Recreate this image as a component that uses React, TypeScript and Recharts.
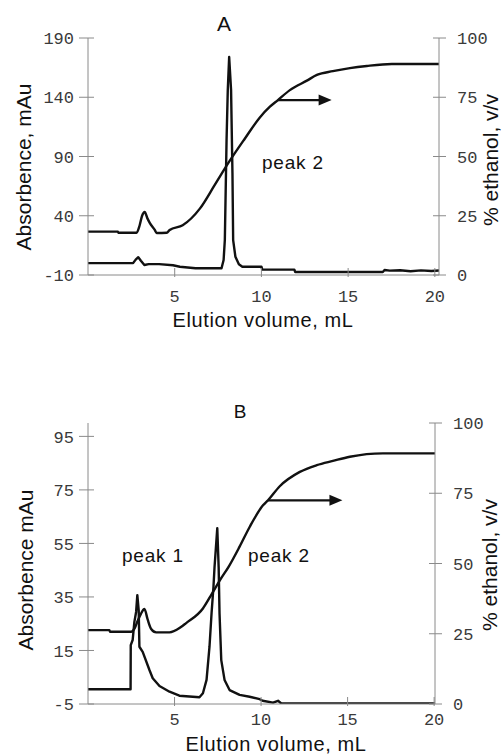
import React from 'react';
import { LineChart, Line, XAxis, YAxis, ReferenceLine, Customized } from 'recharts';

// ---- panel A : absorbance trace (mL, mAu) ----
const volA = [0, 2.6, 2.75, 2.9, 3.05, 3.25, 3.5, 4.1, 4.9, 5.3, 6.2, 7.7, 7.82, 7.89, 7.99, 8.06, 8.14, 8.25, 8.33, 8.37, 8.5, 8.7, 8.9, 10.0, 10.05, 11.9, 11.95, 17.0, 17.1, 17.4, 18.0, 18.6, 19.2, 19.8, 20.24];
const absA = [0, 0, 3, 5, 2, -1.6, -0.8, -0.8, -1.8, -3, -4.3, -4.3, 2.7, 19.5, 104, 146, 174, 146, 76, 19.5, 5.4, -1, -3, -3, -5.5, -5.5, -7.5, -7.5, -5.8, -6.3, -6.0, -6.8, -6.1, -6.6, -6.2];

// ---- panel A : ethanol gradient (mL, % v/v) ----
const gradVolA = [0, 1.72, 1.75, 2.8, 2.98, 3.12, 3.27, 3.42, 3.56, 3.85, 3.96, 4.54, 4.71, 5.46, 6.45, 7.31, 8.14, 9.04, 9.91, 10.49, 10.95, 11.64, 12.62, 13.2, 14.12, 15.1, 16.08, 17.52, 20.24];
const ethA = [18.3, 18.3, 17.8, 17.8, 21, 25, 26.6, 24, 22, 19, 17.7, 17.8, 19, 21, 28, 38, 47.8, 57.5, 66.5, 71, 73.8, 78, 82, 84.4, 86, 87.3, 88.2, 89, 89];

// ---- panel B : absorbance trace ----
const volB = [0, 2.46, 2.47, 2.58, 2.68, 2.78, 2.85, 2.93, 2.97, 3.16, 3.55, 3.74, 4.13, 4.71, 5.28, 6.44, 6.64, 6.85, 7.02, 7.14, 7.25, 7.31, 7.47, 7.55, 7.6, 7.7, 7.89, 8.18, 8.76, 9.34, 9.92, 10.09, 10.69, 10.98, 11.17, 20.05];
const absB = [0.5, 0.5, 17, 18.9, 25.7, 29.4, 35.7, 30, 16.4, 14.5, 7.7, 4.6, 1.7, -0.4, -1.9, -2.5, -1.0, 4, 16.4, 29, 38.8, 46, 60.7, 46, 28.8, 11.4, 4, 0.2, -1.6, -2.3, -3.2, -3.8, -4.5, -3.8, -4.8, -4.8];

// ---- panel B : ethanol gradient ----
const gradVolB = [0, 1.24, 1.27, 2.49, 2.7, 2.87, 3.05, 3.26, 3.45, 3.65, 3.94, 4.71, 5.35, 5.67, 6.64, 7.09, 7.67, 8.14, 8.76, 9.34, 10.11, 10.4, 11.08, 12.24, 13.22, 14.15, 15.13, 17.04, 20.05];
const ethB = [26.3, 26.3, 25.7, 25.7, 27, 29.6, 32, 33.8, 30, 26.7, 25.5, 25.5, 27.3, 28.8, 34, 38.5, 44.5, 49, 56, 63, 70.7, 72.5, 77.5, 82.6, 85, 86.5, 88, 89.2, 89.2];

// ticks
const volTicks = [5, 10, 15, 20];
const absTicksA = [-10, 40, 90, 140, 190];
const absTicksB = [-5, 15, 35, 55, 75, 95];
const ethTicks = [0, 25, 50, 75, 100];

const zip = (xs: number[], ys: number[], key: string) => xs.map((v, i) => ({ v, [key]: ys[i] }));

const AXIS = '#8a8a8a';
const TICK_TEXT = '#3a3a3a';
const INK = '#111';
const MONO = '"Liberation Mono", "DejaVu Sans Mono", monospace';
const SANS = '"Liberation Sans", Arial, sans-serif';

const LeftTick = (p: any) => (
  <g>
    <line x1={p.x - 9} x2={p.x + 6} y1={p.y} y2={p.y} stroke={AXIS} />
    <text x={p.x - 14} y={p.y} dy="0.36em" textAnchor="end" fontFamily={MONO} fontSize={17} fill={TICK_TEXT}>
      {p.payload.value}
    </text>
  </g>
);

const RightTick = (p: any) => (
  <g>
    <line x1={p.x - 6} x2={p.x + 7} y1={p.y} y2={p.y} stroke={AXIS} />
    <text x={p.x + 18} y={p.y} dy="0.36em" textAnchor="start" fontFamily={MONO} fontSize={17} fill={TICK_TEXT}>
      {p.payload.value}
    </text>
  </g>
);

const bottomTick = (off: number) => (p: any) => (
  <g>
    <line x1={p.x} x2={p.x} y1={p.y - 7} y2={p.y + 2} stroke={AXIS} />
    <text x={p.x} y={p.y + off} dy="0.36em" textAnchor="middle" fontFamily={MONO} fontSize={17} fill={TICK_TEXT}>
      {p.payload.value}
    </text>
  </g>
);

const Arrow = (p: any) => (
  <g>
    <line x1={p.x1} y1={p.y1} x2={p.x2 - 10} y2={p.y1} stroke={INK} strokeWidth={2.2} />
    <polygon points={`${p.x2},${p.y1} ${p.x2 - 13},${p.y1 - 5.5} ${p.x2 - 13},${p.y1 + 5.5}`} fill={INK} />
  </g>
);

const txt = { fontFamily: SANS, fill: INK };

const TextsA = () => (
  <g>
    <text x={224} y={31} textAnchor="middle" fontSize={21} {...txt}>A</text>
    <text x={262} y={169} fontSize={19} letterSpacing={0.8} {...txt}>peak 2</text>
    <text x={263} y={327} textAnchor="middle" fontSize={20} letterSpacing={0.6} {...txt}>Elution volume, mL</text>
    <text transform="translate(31,167) rotate(-90)" textAnchor="middle" fontSize={21} {...txt}>Absorbence, mAu</text>
    <text transform="translate(498,160) rotate(-90)" textAnchor="middle" fontSize={21} {...txt}>% ethanol, v/v</text>
  </g>
);

// panel B svg starts at page y = 380
const TextsB = () => (
  <g>
    <text x={240} y={38} textAnchor="middle" fontSize={19} {...txt}>B</text>
    <text x={122} y={182} fontSize={19} letterSpacing={0.8} {...txt}>peak 1</text>
    <text x={248} y={182} fontSize={19} letterSpacing={0.8} {...txt}>peak 2</text>
    <text x={276} y={371} textAnchor="middle" fontSize={20} letterSpacing={0.6} {...txt}>Elution volume, mL</text>
    <text transform="translate(33,190) rotate(-90)" textAnchor="middle" fontSize={21} {...txt}>Absorbence mAu</text>
    <text transform="translate(497,185) rotate(-90)" textAnchor="middle" fontSize={21} {...txt}>% ethanol, v/v</text>
  </g>
);

const lineProps = {
  stroke: INK,
  strokeWidth: 2.4,
  dot: false,
  activeDot: false,
  isAnimationActive: false,
  strokeLinejoin: 'round' as const,
};

function PanelA() {
  return (
    <LineChart width={502} height={340} margin={{ top: 38, right: 0, bottom: 0, left: 0 }}>
      <XAxis type="number" dataKey="v" domain={[0, 20.24]} ticks={volTicks} allowDataOverflow height={65}
        tickSize={0} tickMargin={0} tickLine={false} tick={bottomTick(21)} axisLine={{ stroke: AXIS }} interval={0} />
      <YAxis yAxisId="abs" domain={[-10, 190]} ticks={absTicksA} width={88} allowDataOverflow
        tickSize={0} tickMargin={0} tickLine={false} tick={LeftTick} axisLine={{ stroke: AXIS }} interval={0} />
      <YAxis yAxisId="eth" orientation="right" domain={[0, 100]} ticks={ethTicks} width={63} allowDataOverflow
        tickSize={0} tickMargin={0} tickLine={false} tick={RightTick} axisLine={{ stroke: AXIS }} interval={0} />
      <Line yAxisId="eth" type="monotone" data={zip(gradVolA, ethA, 'eth')} dataKey="eth" {...lineProps} />
      <Line yAxisId="abs" type="linear" data={zip(volA, absA, 'abs')} dataKey="abs" {...lineProps} />
      <ReferenceLine yAxisId="eth" segment={[{ x: 10.95, y: 73.8 }, { x: 14.05, y: 73.8 }]} shape={Arrow} />
      <Customized component={TextsA} />
    </LineChart>
  );
}

function PanelB() {
  return (
    <LineChart width={502} height={376} margin={{ top: 43, right: 0, bottom: 0, left: 0 }}>
      <XAxis type="number" dataKey="v" domain={[0, 20.05]} ticks={volTicks} allowDataOverflow height={52}
        tickSize={0} tickMargin={0} tickLine={false} tick={bottomTick(15)} axisLine={{ stroke: AXIS }} interval={0} />
      <YAxis yAxisId="abs" domain={[-5, 100]} ticks={absTicksB} width={88} allowDataOverflow
        tickSize={0} tickMargin={0} tickLine={false} tick={LeftTick} axisLine={{ stroke: AXIS }} interval={0} />
      <YAxis yAxisId="eth" orientation="right" domain={[0, 100]} ticks={ethTicks} width={67} allowDataOverflow
        tickSize={0} tickMargin={0} tickLine={false} tick={RightTick} axisLine={{ stroke: AXIS }} interval={0} />
      <Line yAxisId="eth" type="monotone" data={zip(gradVolB, ethB, 'eth')} dataKey="eth" {...lineProps} />
      <Line yAxisId="abs" type="linear" data={zip(volB, absB, 'abs')} dataKey="abs" {...lineProps} />
      <ReferenceLine yAxisId="eth" segment={[{ x: 10.4, y: 72.5 }, { x: 14.7, y: 72.5 }]} shape={Arrow} />
      <Customized component={TextsB} />
    </LineChart>
  );
}

export default function App() {
  return (
    <div style={{ position: 'absolute', left: 0, top: 0, width: 502, height: 756, background: '#fff' }}>
      <div style={{ position: 'absolute', left: 0, top: 0 }}>
        <PanelA />
      </div>
      <div style={{ position: 'absolute', left: 0, top: 380 }}>
        <PanelB />
      </div>
    </div>
  );
}
